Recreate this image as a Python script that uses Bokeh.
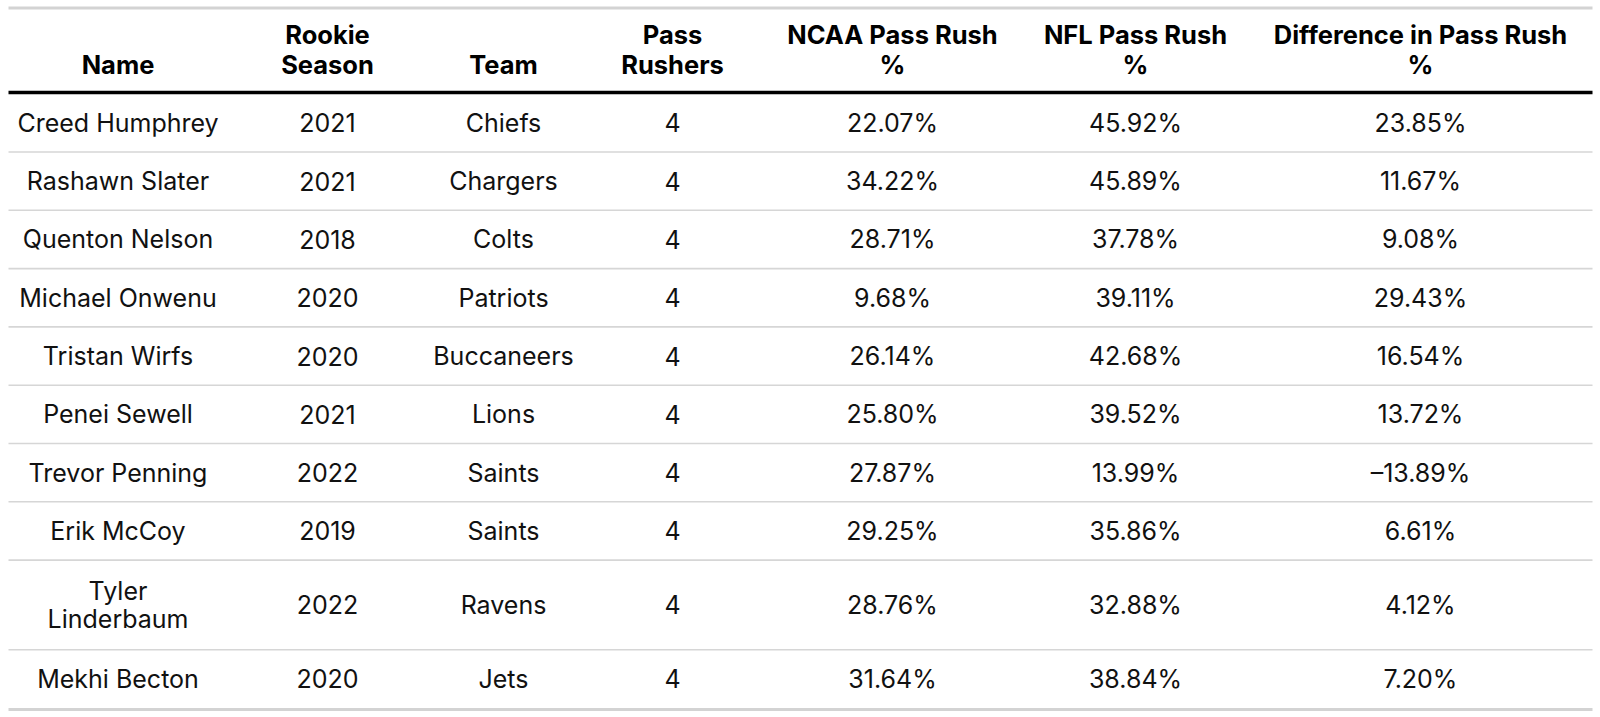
from bokeh.plotting import figure
from bokeh.models import Range1d
from bokeh.core.properties import value
from bokeh.embed import file_html
from bokeh.resources import INLINE

# ---- data ----
headers = ["Name", "Rookie\nSeason", "Team", "Pass\nRushers",
           "NCAA Pass Rush\n%", "NFL Pass Rush\n%", "Difference in Pass Rush\n%"]
names = ["Creed Humphrey", "Rashawn Slater", "Quenton Nelson", "Michael Onwenu",
         "Tristan Wirfs", "Penei Sewell", "Trevor Penning", "Erik McCoy",
         "Tyler Linderbaum", "Mekhi Becton"]
seasons = [2021, 2021, 2018, 2020, 2020, 2021, 2022, 2019, 2022, 2020]
teams = ["Chiefs", "Chargers", "Colts", "Patriots", "Buccaneers", "Lions",
         "Saints", "Saints", "Ravens", "Jets"]
rushers = [4, 4, 4, 4, 4, 4, 4, 4, 4, 4]
ncaa = [22.07, 34.22, 28.71, 9.68, 26.14, 25.80, 27.87, 29.25, 28.76, 31.64]
nfl = [45.92, 45.89, 37.78, 39.11, 42.68, 39.52, 13.99, 35.86, 32.88, 38.84]
diff = [23.85, 11.67, 9.08, 29.43, 16.54, 13.72, -13.89, 6.61, 4.12, 7.20]

# ---- layout ----
W, H = 1600, 717
X0, X1 = 8, 1592
col_x = [117.5, 327, 503, 672, 892, 1135, 1420]
FONT = "Inter"
FS_BODY = "25px"
FS_HEAD = "25.5px"
hdr_bottom_line_y = 64
hdr_line_gap = 30
hdr_rule_y = 92
row_start = 93.2
row_h = 58.3
row_h_wrap = 89.6
wrap_gap = 28


def pct(v):
    s = f"{v:.2f}%"
    return s.replace("-", "\u2013")


def wrap_name(n):
    if len(n) > 15:
        return n.split(" ")
    return [n]


p = figure(width=W, height=H, x_range=Range1d(0, W), y_range=Range1d(H, 0),
           output_backend="svg", toolbar_location=None, min_border=0)
p.axis.visible = False
p.grid.visible = False
p.outline_line_color = None
p.background_fill_color = "white"
p.border_fill_color = "white"

# header texts
hx, hy, ht = [], [], []
for cx, h in zip(col_x, headers):
    lines = h.split("\n")
    for i, ln in enumerate(reversed(lines)):
        hx.append(cx)
        hy.append(hdr_bottom_line_y - i * hdr_line_gap)
        ht.append(ln)
p.text(x=hx, y=hy, text=ht, text_font=value(FONT), text_font_size=FS_HEAD,
       text_font_style="bold", text_color="#000000", text_align="center",
       text_baseline="middle")

# body
bx, by, bt = [], [], []
edges = []
y = row_start
for i in range(len(names)):
    nm_lines = wrap_name(names[i])
    h = row_h_wrap if len(nm_lines) > 1 else row_h
    cy = y + h / 2
    n = len(nm_lines)
    for j, ln in enumerate(nm_lines):
        bx.append(col_x[0])
        by.append(cy + (j - (n - 1) / 2) * wrap_gap)
        bt.append(ln)
    cells = [str(seasons[i]), teams[i], str(rushers[i]), pct(ncaa[i]),
             pct(nfl[i]), pct(diff[i])]
    for cx, c in zip(col_x[1:], cells):
        bx.append(cx)
        by.append(cy)
        bt.append(c)
    y += h
    edges.append(y)

p.text(x=bx, y=by, text=bt, text_font=value(FONT), text_font_size=FS_BODY,
       text_color="#111111", text_align="center", text_baseline="middle")

# row separator lines
inner = edges[:-1]
p.segment(x0=[X0] * len(inner), x1=[X1] * len(inner), y0=inner, y1=inner,
          line_color="#d6d6d6", line_width=1.6)
# top border
p.segment(x0=[X0], x1=[X1], y0=[7.5], y1=[7.5], line_color="#d3d3d3", line_width=3)
# header rule
p.segment(x0=[X0], x1=[X1], y0=[hdr_rule_y], y1=[hdr_rule_y], line_color="#000000", line_width=3.5)
# bottom border
bot = edges[-1] + 1.5
p.segment(x0=[X0], x1=[X1], y0=[bot], y1=[bot], line_color="#d3d3d3", line_width=3)

open("out.html", "w").write(file_html(p, INLINE))
